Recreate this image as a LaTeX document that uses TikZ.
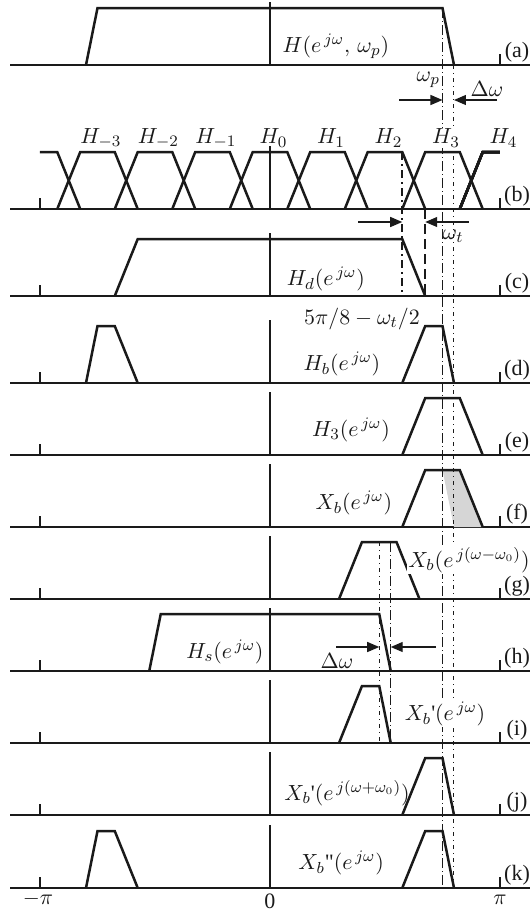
\documentclass[tikz,border=0pt]{standalone}
\usepackage{fontspec}
\setmainfont{Liberation Serif}
\usetikzlibrary{arrows.meta}
\definecolor{ink}{HTML}{1A1A1A}
\definecolor{greyfill}{HTML}{D6D6D6}
\tikzset{
  every picture/.style={line width=0.5pt, color=ink},
  axis/.style={draw=ink, line width=0.6pt},
  resp/.style={draw=ink, line width=1.25pt},
  guide/.style={draw=ink, line width=0.5pt, dash pattern=on 5pt off 1.5pt on 0.5pt off 1.5pt},
  guidedot/.style={draw=ink, line width=0.5pt, dash pattern=on 2pt off 2pt on 0.5pt off 2pt},
  cut/.style={draw=ink, line width=1.1pt, dash pattern=on 4pt off 2pt on 1pt off 2pt},
  cutdash/.style={draw=ink, line width=1.1pt, dash pattern=on 5pt off 2.5pt},
  flow/.style={-{Triangle[length=6pt,width=5pt]}, draw=ink, line width=0.6pt},
  lbl/.style={inner sep=0.5pt, font=\fontsize{11}{13}\selectfont},
  mask/.style={lbl, fill=white},
  tag/.style={inner sep=0pt, font=\fontsize{11}{13}\selectfont},
}
% one response: baseline, foot, shoulder, shoulder, foot
\newcommand{\band}[5]{\draw[resp] (#2,#1) -- (#3,#1-57) -- (#4,#1-57) -- (#5,#1);}

\begin{document}
\begin{tikzpicture}[x=115pt, y=-0.5pt]
\useasboundingbox (-1.1739,0) rectangle (1.1348,917);
% axes, zero lines, ticks, panel tags
\foreach \t/\y in {a/65,b/209,c/296,d/383,e/455,f/527,g/599,h/671,i/743,j/815,k/888}{
  \draw[axis] (-1.1304,\y) -- (1.1304,\y);
  \draw[axis] (0,\y) -- (0,\y-63);
  \draw[axis] (1,\y) -- (1,\y-11);
  \node[tag] (tag\t) at (1.074,\y-13) {(\t)};
}
\foreach \y in {209,296,383,455,527,599,671,743,815,888}
  \draw[axis] (-1,\y) -- (-1,\y-11);
% shaded part of X_b
\fill[greyfill] (0.75,470) -- (0.80,527) -- (0.925,527) -- (0.825,470) -- cycle;
% guide lines
\draw[guide] (0.75,8) -- (0.75,888);
\draw[guidedot] (0.80,65) -- (0.80,888);
\draw[cut] (0.575,152) -- (0.575,296);
\draw[cutdash] (0.675,209) -- (0.675,296);
\draw[guidedot] (0.475,542) -- (0.475,743);
\draw[guide] (0.525,542) -- (0.525,743);
% (a)
\band{65}{-0.80}{-0.75}{0.75}{0.80}
\node[lbl, anchor=west] (Ha) at (0.048,46) {$H(e^{\,j\omega},\,\omega_p)$};
\node[lbl, anchor=east] (wpL) at (0.745,80) {$\omega_p$};
\node[lbl] (dwL) at (0.943,89) {$\Delta\omega$};
\coordinate (wpT) at (0.561,100); \coordinate (wpH) at (0.75,100);
\coordinate (dwT) at (0.987,100); \coordinate (dwH) at (0.80,100);
\draw[flow] (wpT) -- (wpH);
\draw[flow] (dwT) -- (dwH);
% (b) filter bank
\draw[resp] (-1,152) -- (-0.925,152) -- (-0.825,209);
\foreach \k in {-3,...,3}
  \band{209}{\k/4-0.175}{\k/4-0.075}{\k/4+0.075}{\k/4+0.175}
\draw[resp] (0.825,209) -- (0.925,152) -- (1,152);
\foreach \k [count=\n] in {-3,...,2}
  \node[lbl] (Hk\n) at (\k/4+0.015,138) {$H_{\k}$};
\node[mask] (Hk7) at (0.765,138) {$H_{3}$};
\node[lbl] (Hk8) at (1.015,138) {$H_{4}$};
\coordinate (wtT) at (0.383,222); \coordinate (wtH) at (0.575,222);
\coordinate (wtR) at (0.865,222); \coordinate (wtG) at (0.675,222);
\draw[flow] (wtT) -- (wtH);
\draw[flow] (wtR) -- (wtG);
\node[lbl] (wtL) at (0.796,236) {$\omega_t$};
% (c)
\band{296}{-0.675}{-0.575}{0.575}{0.675}
\node[lbl] (Hd) at (0.243,279) {$H_d(e^{\,j\omega})$};
\node[lbl] (edge) at (0.40,319) {$5\pi/8-\omega_t/2$};
% (d)
\band{383}{-0.80}{-0.75}{-0.675}{-0.575}
\band{383}{0.575}{0.675}{0.75}{0.80}
\node[lbl] (Hb) at (0.313,364) {$H_b(e^{\,j\omega})$};
% (e)
\band{455}{0.575}{0.675}{0.825}{0.925}
\node[lbl] (H3) at (0.352,430) {$H_3(e^{\,j\omega})$};
% (f)
\band{527}{0.575}{0.675}{0.825}{0.925}
\node[lbl] (Xb) at (0.365,503) {$X_b(e^{\,j\omega})$};
% (g)
\band{599}{0.30}{0.40}{0.55}{0.65}
\node[mask] (Xg) at (0.865,560) {$X_b(e^{\,j(\omega-\omega_0)})$};
% (h)
\band{671}{-0.525}{-0.475}{0.475}{0.525}
\node[lbl] (Hs) at (-0.196,652) {$H_s(e^{\,j\omega})$};
\node[lbl] (dwS) at (0.291,661) {$\Delta\omega$};
\coordinate (dsT) at (0.287,647); \coordinate (dsH) at (0.475,647);
\coordinate (dsR) at (0.722,647); \coordinate (dsG) at (0.525,647);
\draw[flow] (dsT) -- (dsH);
\draw[flow] (dsR) -- (dsG);
% (i)
\band{743}{0.30}{0.40}{0.475}{0.525}
\node[mask] (Xi) at (0.761,714) {$X_b$\textquotesingle$(e^{\,j\omega})$};
% (j)
\band{815}{0.575}{0.675}{0.75}{0.80}
\node[lbl] (Xj) at (0.335,793) {$X_b$\textquotesingle$(e^{\,j(\omega+\omega_0)})$};
% (k)
\band{888}{-0.80}{-0.75}{-0.675}{-0.575}
\band{888}{0.575}{0.675}{0.75}{0.80}
\node[lbl] (Xk) at (0.309,863) {$X_b$\textquotedbl$(e^{\,j\omega})$};
% frequency marks
\node[lbl] (mpi) at (-1.009,899) {$-\pi$};
\node[lbl] (zero) at (0,901) {0};
\node[lbl] (ppi) at (1,900) {$\pi$};
\end{tikzpicture}
\end{document}
